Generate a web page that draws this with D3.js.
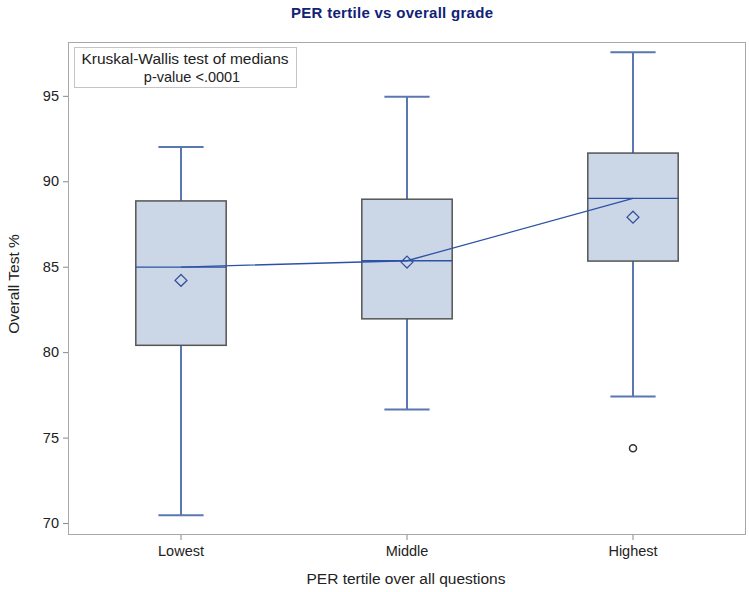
<!DOCTYPE html>
<html><head><meta charset="utf-8">
<script src="https://cdn.jsdelivr.net/npm/d3@7"></script>
<style>body{margin:0;background:#fff}svg{display:block}text{font-family:"Liberation Sans",Arial,sans-serif}</style>
</head><body>
<script>
const categories = ["Lowest","Middle","Highest"];
const whiskerLow  = [70.45, 76.65, 77.4];
const q1          = [80.4, 81.95, 85.33];
const medians     = [84.98, 85.35, 89.0];
const means       = [84.2, 85.27, 87.9];
const q3          = [88.85, 88.95, 91.65];
const whiskerHigh = [92.0, 94.95, 97.55];
const outliers    = [{cat:"Highest", v:74.37}];
const yTicks = [70,75,80,85,90,95];

const W=749,H=592;
const m={l:68,r:3,t:42,b:57};
const svg=d3.select("body").append("svg").attr("width",W).attr("height",H);
const x=d3.scaleBand().domain(categories).range([m.l,W-m.r]).paddingInner(0).paddingOuter(0);
const y=d3.scaleLinear().domain([69.3,98.15]).range([H-m.b,m.t]);
const bw=x.bandwidth()*0.4;

svg.append("text").attr("x",392).attr("y",18).attr("text-anchor","middle")
  .attr("font-size",15).attr("font-weight","bold").attr("fill","#112277").attr("textLength",202).text("PER tertile vs overall grade");

// frame
svg.append("rect").attr("x",m.l+0.5).attr("y",m.t+0.5).attr("width",W-m.r-m.l-1).attr("height",H-m.b-m.t-1)
  .attr("fill","none").attr("stroke","#a8a8a8");

// axes
const ya=svg.append("g").attr("transform",`translate(${m.l},0)`).call(d3.axisLeft(y).tickValues(yTicks).tickSize(5).tickPadding(4));
const xa=svg.append("g").attr("transform",`translate(0,${H-m.b})`).call(d3.axisBottom(x).tickSize(5).tickPadding(6));
[ya,xa].forEach(g=>{g.select(".domain").remove();g.selectAll("line").attr("stroke","#888");
  g.selectAll("text").attr("font-size",14.5).attr("fill","#222").attr("font-family","Liberation Sans, Arial, sans-serif");});

svg.append("text").attr("x",406).attr("y",584).attr("text-anchor","middle").attr("font-size",15.5).attr("fill","#222").text("PER tertile over all questions");
svg.append("text").attr("transform",`translate(19,284) rotate(-90)`).attr("text-anchor","middle").attr("font-size",15.5).attr("fill","#222").text("Overall Test %");

const cx=c=>x(c)+x.bandwidth()/2;
const wcol="#5a77b0";
categories.forEach((c,i)=>{
  const g=svg.append("g");
  const X=cx(c);
  g.append("line").attr("x1",X).attr("x2",X).attr("y1",y(q3[i])).attr("y2",y(whiskerHigh[i])).attr("stroke",wcol).attr("stroke-width",2);
  g.append("line").attr("x1",X).attr("x2",X).attr("y1",y(q1[i])).attr("y2",y(whiskerLow[i])).attr("stroke",wcol).attr("stroke-width",2);
  [whiskerHigh[i],whiskerLow[i]].forEach(v=>g.append("line").attr("x1",X-bw/4).attr("x2",X+bw/4).attr("y1",y(v)).attr("y2",y(v)).attr("stroke",wcol).attr("stroke-width",2));
  g.append("rect").attr("x",X-bw/2).attr("y",y(q3[i])).attr("width",bw).attr("height",y(q1[i])-y(q3[i]))
    .attr("fill","#cbd6e7").attr("stroke","#555").attr("stroke-width",1.5);
  g.append("line").attr("x1",X-bw/2).attr("x2",X+bw/2).attr("y1",y(medians[i])).attr("y2",y(medians[i])).attr("stroke","#2d52a5").attr("stroke-width",1.3);
  g.append("path").attr("d",d3.symbol(d3.symbolDiamond2,90)()).attr("transform",`translate(${X},${y(means[i])})`)
    .attr("fill","none").attr("stroke","#34529a").attr("stroke-width",1.3);
});
svg.append("path").datum(categories.map((c,i)=>[cx(c),y(medians[i])]))
  .attr("d",d3.line()).attr("fill","none").attr("stroke","#2d52a5").attr("stroke-width",1.3);
outliers.forEach(o=>svg.append("circle").attr("cx",cx(o.cat)).attr("cy",y(o.v)).attr("r",3.5).attr("fill","none").attr("stroke","#333").attr("stroke-width",1.5));

// inset
svg.append("rect").attr("x",74.5).attr("y",47.5).attr("width",222).attr("height",40).attr("fill","#fff").attr("stroke","#c4c4c4");
svg.append("text").attr("x",185).attr("y",64).attr("text-anchor","middle").attr("font-size",15.5).attr("fill","#222").text("Kruskal-Wallis test of medians");
svg.append("text").attr("x",192).attr("y",81.5).attr("text-anchor","middle").attr("font-size",14.5).attr("fill","#222").text("p-value <.0001");
</script>
</body></html>
